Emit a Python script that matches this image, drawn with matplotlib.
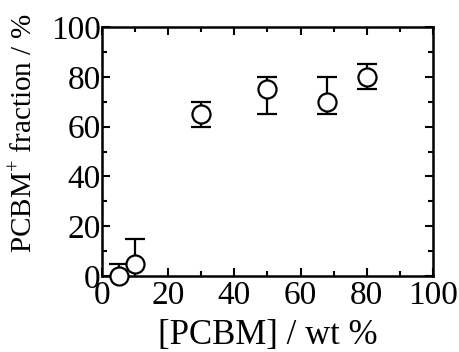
import numpy as np
import matplotlib.pyplot as plt
from matplotlib.ticker import MultipleLocator

# Data
pcbm_wt = [5, 10, 30, 50, 68, 80]
fraction = [0, 5, 65, 75, 70, 80]
err_low = [0, 0, 5, 10, 5, 5]
err_high = [5, 10, 5, 5, 10, 5]

plt.rcParams['font.family'] = ['Liberation Serif', 'DejaVu Serif']
plt.rcParams['mathtext.fontset'] = 'custom'
plt.rcParams['mathtext.rm'] = 'Liberation Serif'

fig = plt.figure(figsize=(4.6, 3.52), dpi=100)
ax = fig.add_axes([102/460, 1-276/352, 331/460, 249/352])

ax.errorbar(pcbm_wt, fraction, yerr=[err_low, err_high], fmt='o', ms=13,
            mfc='white', mec='black', mew=1.6, ecolor='black', elinewidth=1.6,
            capsize=7, capthick=1.6, clip_on=False, zorder=3)
for art in ax.get_children():
    try:
        art.set_clip_on(False)
    except Exception:
        pass

ax.set_xlim(0, 100)
ax.set_ylim(0, 100)
ax.xaxis.set_major_locator(MultipleLocator(20))
ax.xaxis.set_minor_locator(MultipleLocator(10))
ax.yaxis.set_major_locator(MultipleLocator(20))
ax.yaxis.set_minor_locator(MultipleLocator(10))
ax.tick_params(which='both', direction='in', top=True, right=True, width=1.5)
ax.tick_params(which='major', length=6, labelsize=24)
ax.tick_params(axis='y', which='major', pad=1)
ax.tick_params(axis='x', which='major', pad=3)
ax.tick_params(which='minor', length=3.5)
for s in ax.spines.values():
    s.set_linewidth(1.8)

ax.set_xlabel('[PCBM] / wt %', fontsize=25, labelpad=6)
ax.set_ylabel('PCBM$^{+}$ fraction / %', fontsize=21)
ax.yaxis.set_label_coords(-64/331, (276-133)/249)

fig.savefig('out.png', dpi=100)
